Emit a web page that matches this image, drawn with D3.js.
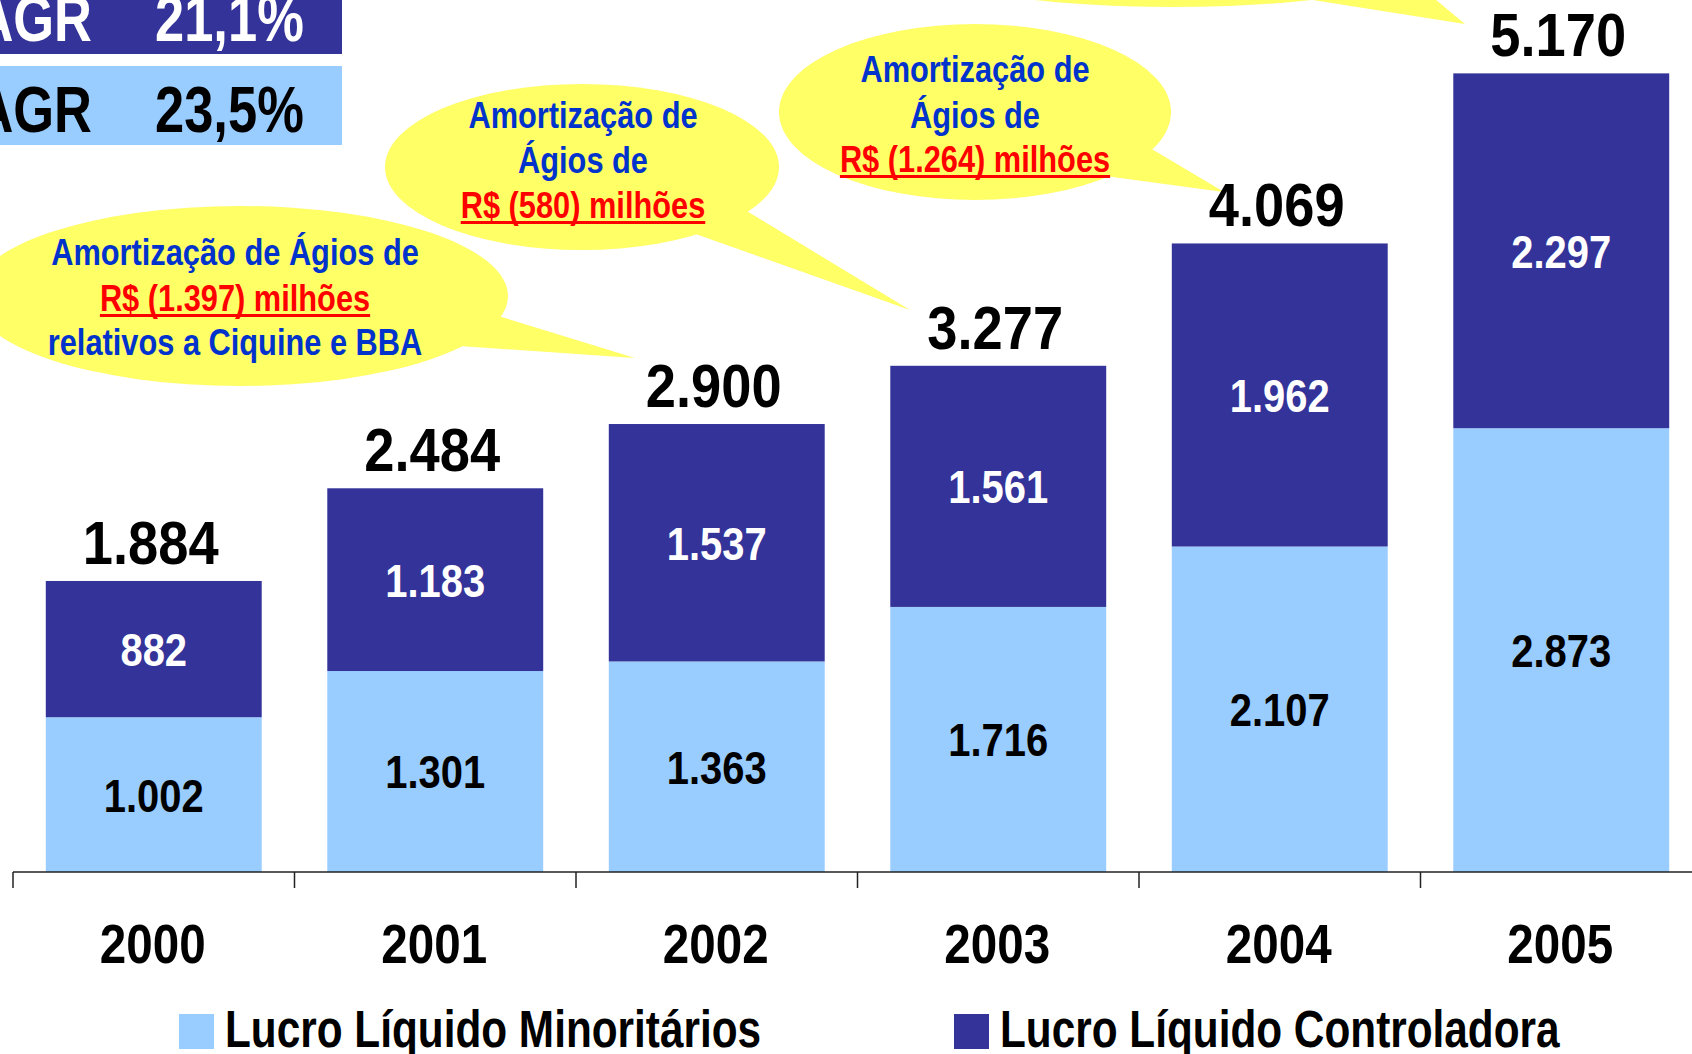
<!DOCTYPE html>
<html><head><meta charset="utf-8">
<script src="https://cdn.jsdelivr.net/npm/d3@7"></script>
<style>
html,body{margin:0;padding:0;background:#fff;overflow:hidden}
svg{display:block}
text{font-family:"Liberation Sans",Arial,sans-serif;font-weight:bold}
</style></head><body>
<svg id="chart" width="1692" height="1054"></svg>
<script>
// ---- data ----
const years = ["2000","2001","2002","2003","2004","2005"];
const lucroMinoritarios = [1002,1301,1363,1716,2107,2873];
const lucroControladora = [882,1183,1537,1561,1962,2297];
const lucroTotal = [1884,2484,2900,3277,4069,5170];
const seriesNames = ["Lucro Líquido Minoritários","Lucro Líquido Controladora"];
const cagrLabels = ["CAGR","CAGR"];
const cagrValues = ["21,1%","23,5%"];
const calloutLines = [
  ["Amortização de Ágios de","R$ (1.397) milhões","relativos a Ciquine e BBA"],
  ["Amortização de","Ágios de","R$ (580) milhões"],
  ["Amortização de","Ágios de","R$ (1.264) milhões"],
  []
];
const calloutRedLine = [1,2,2,-1];

// ---- layout / style ----
const W = 1692, H = 1054;
const colDark = "#333399", colLight = "#99CCFF", colYellow = "#FFFF66";
const colBlue = "#0033CC", colRed = "#FF0000";
const ptBr = d3.formatLocale({decimal:",", thousands:".", grouping:[3], currency:["R$ ",""]});
const fmt = ptBr.format(",d");
const tr = (px,py,k) => `translate(${px},${py}) scale(${k},1)`;

const svg = d3.select("#chart");
const xCat = d3.scaleBand().domain(years).range([13, 1702]).padding(0);
const x = d3.scaleBand().domain(years).range([13, 1702]).paddingInner(0.233).paddingOuter(0.1165);
const y = d3.scaleLinear().domain([0, 5645]).range([872, 0]);

const table = years.map((yr,i)=>({year:yr, minoritarios:lucroMinoritarios[i], controladora:lucroControladora[i]}));
const stack = d3.stack().keys(["minoritarios","controladora"])(table);
const colors = {minoritarios:colLight, controladora:colDark};
const labelColors = {minoritarios:"#000", controladora:"#fff"};

// ---- callout bubbles (drawn behind bars) ----
const bubbles = [
  {cx:240, cy:296, rx:268, ry:90, tail:[[445,345],[495,315],[635,358]], tx:235, base:[265,311,355]},
  {cx:582, cy:167, rx:197, ry:83, tail:[[690,232],[745,210],[910,310]], tx:583, base:[128,173,218]},
  {cx:975, cy:112, rx:196, ry:88, tail:[[1105,176],[1150,148],[1224,192]], tx:975, base:[82,128,172]},
  {cx:1173, cy:-31, rx:240, ry:38, tail:[[1300,-2],[1400,-30],[1465,24]], tx:1173, base:[]}
];
const KB = 0.855;
const gB = svg.append("g");
bubbles.forEach((b,i)=>{
  gB.append("ellipse").attr("cx",b.cx).attr("cy",b.cy).attr("rx",b.rx).attr("ry",b.ry).attr("fill",colYellow);
  gB.append("path").attr("d", d3.line()(b.tail)+"Z").attr("fill",colYellow);
  calloutLines[i].forEach((ln,j)=>{
    const red = calloutRedLine[i]===j;
    const t = gB.append("text").attr("transform",tr(b.tx,b.base[j],KB)).attr("text-anchor","middle")
      .attr("font-size",36).attr("fill", red?colRed:colBlue)
      .text(ln);
    if (red) {
      const w = t.node().getComputedTextLength()*KB;
      gB.append("line").attr("x1",b.tx-w/2).attr("x2",b.tx+w/2)
        .attr("y1",b.base[j]+4.5).attr("y2",b.base[j]+4.5)
        .attr("stroke",colRed).attr("stroke-width",3);
    }
  });
});

// ---- bars ----
const gBars = svg.append("g");
stack.forEach(s=>{
  gBars.selectAll(null).data(s).join("rect")
    .attr("x", d=>x(d.data.year)).attr("width", x.bandwidth())
    .attr("y", d=>y(d[1])).attr("height", d=>y(d[0])-y(d[1]))
    .attr("fill", colors[s.key]);
  gBars.selectAll(null).data(s).join("text")
    .attr("transform", d=>tr(x(d.data.year)+x.bandwidth()/2, (y(d[0])+y(d[1]))/2, 0.85))
    .attr("dy","0.36em").attr("text-anchor","middle")
    .attr("font-size",47).attr("fill", labelColors[s.key])
    .text(d=>fmt(d[1]-d[0]));
});
// totals
gBars.selectAll(null).data(years).join("text")
  .attr("transform", (d,i)=>tr(x(d)+x.bandwidth()/2-3, y(lucroTotal[i])-17, 0.875))
  .attr("text-anchor","middle").attr("font-size",62).attr("fill","#000")
  .text((d,i)=>fmt(lucroTotal[i]));

// ---- axis ----
const gAxis = svg.append("g");
gAxis.append("line").attr("x1",xCat.range()[0]).attr("x2",W).attr("y1",y(0)).attr("y2",y(0))
  .attr("stroke","#222").attr("stroke-width",1.5);
gAxis.selectAll(null).data(years).join("line")
  .attr("x1",d=>xCat(d)).attr("x2",d=>xCat(d)).attr("y1",y(0)).attr("y2",y(0)+16)
  .attr("stroke","#222").attr("stroke-width",1.5);
gAxis.selectAll(null).data(years).join("text")
  .attr("transform", d=>tr(xCat(d)+xCat.bandwidth()/2-1, 963, 0.865))
  .attr("text-anchor","middle").attr("font-size",55).attr("fill","#000")
  .text(d=>d);

// ---- legend ----
const legX = [179, 954];
const gL = svg.append("g");
seriesNames.forEach((n,i)=>{
  gL.append("rect").attr("x",legX[i]).attr("y",1014).attr("width",35).attr("height",35)
    .attr("fill", i===0?colLight:colDark);
  gL.append("text").attr("transform",tr(legX[i]+46,1047,0.83)).attr("font-size",51).attr("fill","#000").text(n);
});

// ---- CAGR boxes ----
const gC = svg.append("g");
const boxY = [-25, 66];
cagrValues.forEach((v,i)=>{
  gC.append("rect").attr("x",0).attr("y",boxY[i]).attr("width",342).attr("height",79)
    .attr("fill", i===0?colDark:colLight);
  const tc = i===0?"#fff":"#000";
  gC.append("text").attr("transform",tr(92,boxY[i]+66,0.82)).attr("text-anchor","end")
    .attr("font-size",64).attr("fill",tc).text(cagrLabels[i]);
  gC.append("text").attr("transform",tr(155,boxY[i]+66,0.82))
    .attr("font-size",64).attr("fill",tc).text(v);
});
</script>
</body></html>
